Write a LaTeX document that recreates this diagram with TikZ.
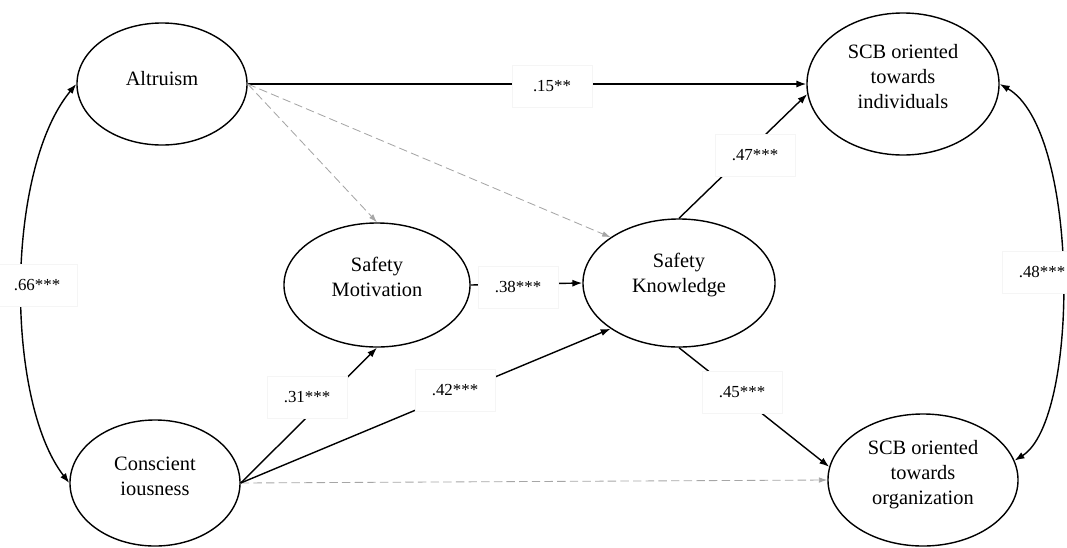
\documentclass[tikz,border=0pt]{standalone}
\usepackage{fontspec}
\setmainfont{Liberation Serif}
\usetikzlibrary{shapes.geometric,arrows.meta}

\begin{document}
\begin{tikzpicture}[x=0.025cm,y=-0.025cm]
    \tikzset{
        latent/.style={ellipse, draw, line width=1pt, inner sep=0pt},
        ltext/.style={align=center, inner sep=0pt, font=\fontsize{14.5}{17.8}\selectfont},
        coef/.style={fill=white, draw=black!4, line width=0.4pt,
            font=\fontsize{12}{14}\selectfont,
            minimum width=2cm, minimum height=1.05cm},
        sigpath/.style={line width=1pt, -{Latex[length=7pt,width=5pt]}},
        nsigpath/.style={gray!70, line width=0.6pt, dash pattern=on 6pt off 3pt,
            -{Latex[length=6pt,width=4pt]}},
        covpath/.style={line width=1pt, {Latex[length=7pt,width=5pt]}-{Latex[length=7pt,width=5pt]}}
    }
    \useasboundingbox (0,0) rectangle (1067,547);

    % latent variables
    \node[latent, minimum width=4.25cm, minimum height=3.05cm] (alt) at (162,84) {};
    \node[latent, minimum width=4.25cm, minimum height=3.15cm] (cons) at (155,483) {};
    \node[latent, minimum width=4.65cm, minimum height=3.1cm] (mot) at (377,285) {};
    \node[latent, minimum width=4.8cm, minimum height=3.2cm] (know) at (679,283) {};
    \node[latent, minimum width=4.8cm, minimum height=3.55cm] (scbi) at (903,84) {};
    \node[latent, minimum width=4.75cm, minimum height=3.3cm] (scbo) at (923,480) {};

    \foreach \n/\s/\t in {alt/4pt/Altruism, cons/5pt/Conscient\\iousness,
            mot/6pt/Safety\\Motivation, know/6pt/Safety\\Knowledge,
            scbi/5pt/SCB oriented\\towards\\individuals,
            scbo/4pt/SCB oriented\\towards\\organization} {
        \node[ltext] (\n-t) at ([yshift=\s]\n.center) {\t};
    }

    % paths
    \draw[sigpath] (alt.east) -- (scbi.west);
    \draw[nsigpath] (alt.east) -- (mot.north);
    \draw[nsigpath] (alt.east) -- (know.north west);
    \draw[nsigpath] (cons.east) -- (scbo.west);
    \draw[sigpath] (cons.east) -- (mot.south);
    \draw[sigpath] (cons.east) -- (know.south west);
    \draw[sigpath] (mot.east) -- (know.west);
    \draw[sigpath] (know.north) -- (scbi.186);
    \draw[sigpath] (know.south) -- (scbo.172);

    % correlations
    \draw[covpath] (alt.west) .. controls (5,170) and (5,400) .. (cons.west);
    \draw[covpath] (scbi.east) .. controls (1080,130) and (1080,420) .. (scbo.12);

    % coefficients
    \node[coef] (c15) at (552,86) {.15**};
    \node[coef] (c47) at (755,155) {.47***};
    \node[coef] (c38) at (518,287) {.38***};
    \node[coef] (c31) at (307,397) {.31***};
    \node[coef] (c42) at (455,390) {.42***};
    \node[coef] (c45) at (742,392) {.45***};
    \node[coef] (c66) at (37,285) {.66***};
    \node[coef] (c48) at (1042,272) {.48***};
\end{tikzpicture}
\end{document}
